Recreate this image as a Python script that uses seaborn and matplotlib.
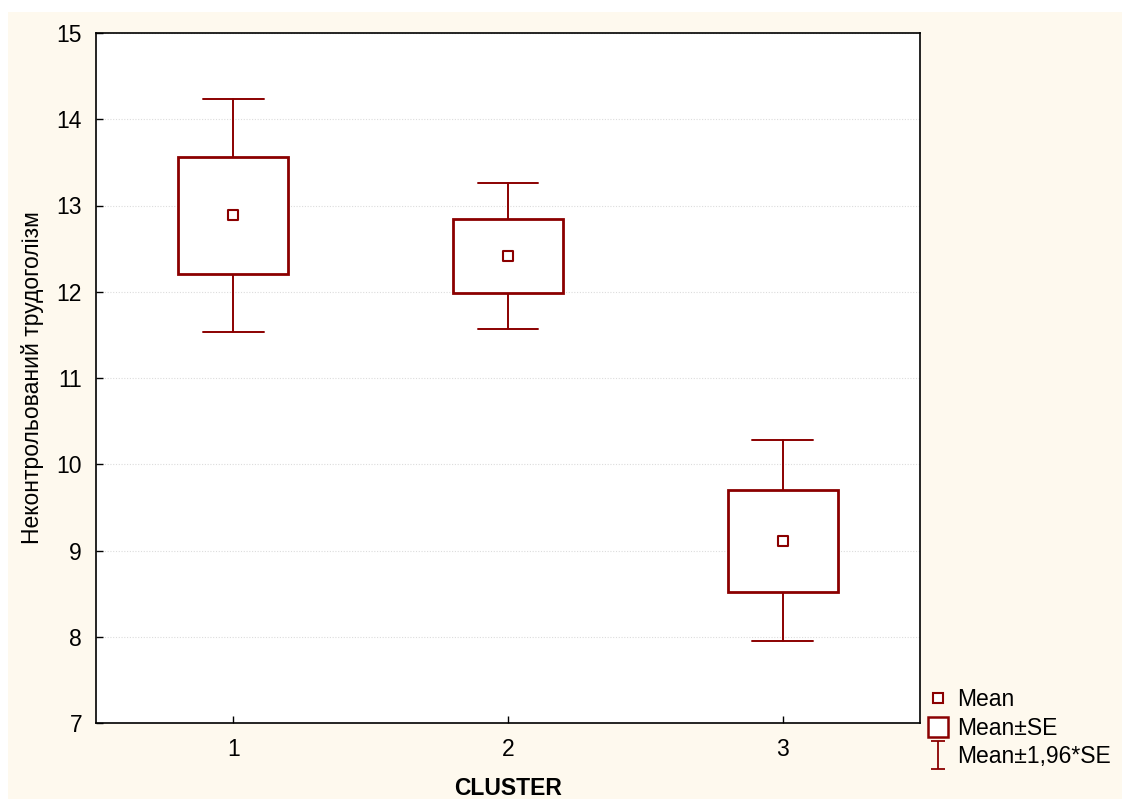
import numpy as np
import pandas as pd
import seaborn as sns
import matplotlib.pyplot as plt
from matplotlib.lines import Line2D
from matplotlib.patches import Rectangle
from matplotlib.path import Path

# Values (per cluster)
clusters = [1, 2, 3]
means = [12.89, 12.41, 9.11]
se_low = [12.21, 11.99, 8.52]
se_high = [13.56, 12.84, 9.70]
ci_low = [11.53, 11.57, 7.95]
ci_high = [14.23, 13.26, 10.28]

df = pd.DataFrame({'CLUSTER': clusters, 'mean': means})

sns.set_style('white')
plt.rcParams['font.family'] = ['Liberation Sans', 'DejaVu Sans']
plt.rcParams['text.color'] = 'black'
plt.rcParams['axes.labelcolor'] = 'black'
plt.rcParams['xtick.color'] = 'black'
plt.rcParams['ytick.color'] = 'black'

dark_red = '#8B0000'
cream = '#FEF9EE'
fs = 16.5

fig, ax = plt.subplots(figsize=(11.22, 7.99), dpi=100)
fig.patch.set_facecolor('white')
# cream panel behind the plot (white strip on top and left)
fig.patches.append(Rectangle((8 / 1122, 0), 1, 1 - 12 / 799, transform=fig.transFigure,
                             facecolor=cream, edgecolor='none', zorder=-10))
fig.subplots_adjust(left=96 / 1122, right=920 / 1122, top=1 - 33 / 799, bottom=1 - 723 / 799)
ax.set_facecolor('white')

# whiskers: mean +- 1.96*SE
for x, lo, hi in zip(clusters, ci_low, ci_high):
    ax.plot([x, x], [lo, hi], color=dark_red, lw=1.4, zorder=2)
    ax.plot([x - 0.11, x + 0.11], [lo, lo], color=dark_red, lw=1.4, zorder=2)
    ax.plot([x - 0.11, x + 0.11], [hi, hi], color=dark_red, lw=1.4, zorder=2)

# boxes: mean +- SE
for x, lo, hi in zip(clusters, se_low, se_high):
    ax.add_patch(Rectangle((x - 0.2, lo), 0.4, hi - lo, facecolor='white',
                           edgecolor=dark_red, lw=2, zorder=3))

# mean markers
sns.scatterplot(data=df, x='CLUSTER', y='mean', marker='s', s=50, facecolor='white',
                edgecolor=dark_red, linewidth=1.5, zorder=4, ax=ax, legend=False)

ax.set_xlim(0.5, 3.5)
ax.set_ylim(7, 15)
ax.set_xticks(clusters)
ax.set_yticks(range(7, 16))
ax.yaxis.grid(True, linestyle=(0, (1, 1.5)), color='#dcdcdc', lw=0.8)
ax.set_axisbelow(True)
for sp in ax.spines.values():
    sp.set_color('black')
    sp.set_linewidth(1.2)
ax.tick_params(direction='in', length=5, width=1, labelsize=fs, colors='black',
               left=True, bottom=True)
ax.tick_params(axis='y', pad=10)
ax.tick_params(axis='x', pad=11)
ax.set_xlabel('CLUSTER', fontsize=fs, fontweight='bold', labelpad=11)
ax.set_ylabel('Неконтрольований трудоголізм', fontsize=fs, labelpad=9)

# legend
i_path = Path([(-0.5, -1), (0.5, -1), (0, -1), (0, 1), (-0.5, 1), (0.5, 1)],
              [Path.MOVETO, Path.LINETO, Path.MOVETO, Path.LINETO, Path.MOVETO, Path.LINETO])
handles = [
    Line2D([], [], ls='none', marker='s', markersize=7, markerfacecolor='white',
           markeredgecolor=dark_red, markeredgewidth=1.5),
    Line2D([], [], ls='none', marker='s', markersize=14, markerfacecolor='white',
           markeredgecolor=dark_red, markeredgewidth=1.8),
    Line2D([], [], ls='none', marker=i_path, markersize=20, markeredgecolor=dark_red,
           markeredgewidth=1.3),
]
fig.legend(handles, ['Mean', 'Mean±SE', 'Mean±1,96*SE'], loc='lower left',
           bbox_to_anchor=(0.816, 0.025), frameon=False, fontsize=fs,
           handlelength=1.0, handletextpad=0.3, labelspacing=0.22, borderpad=0)

fig.savefig('out.png', dpi=100, facecolor=fig.get_facecolor())
